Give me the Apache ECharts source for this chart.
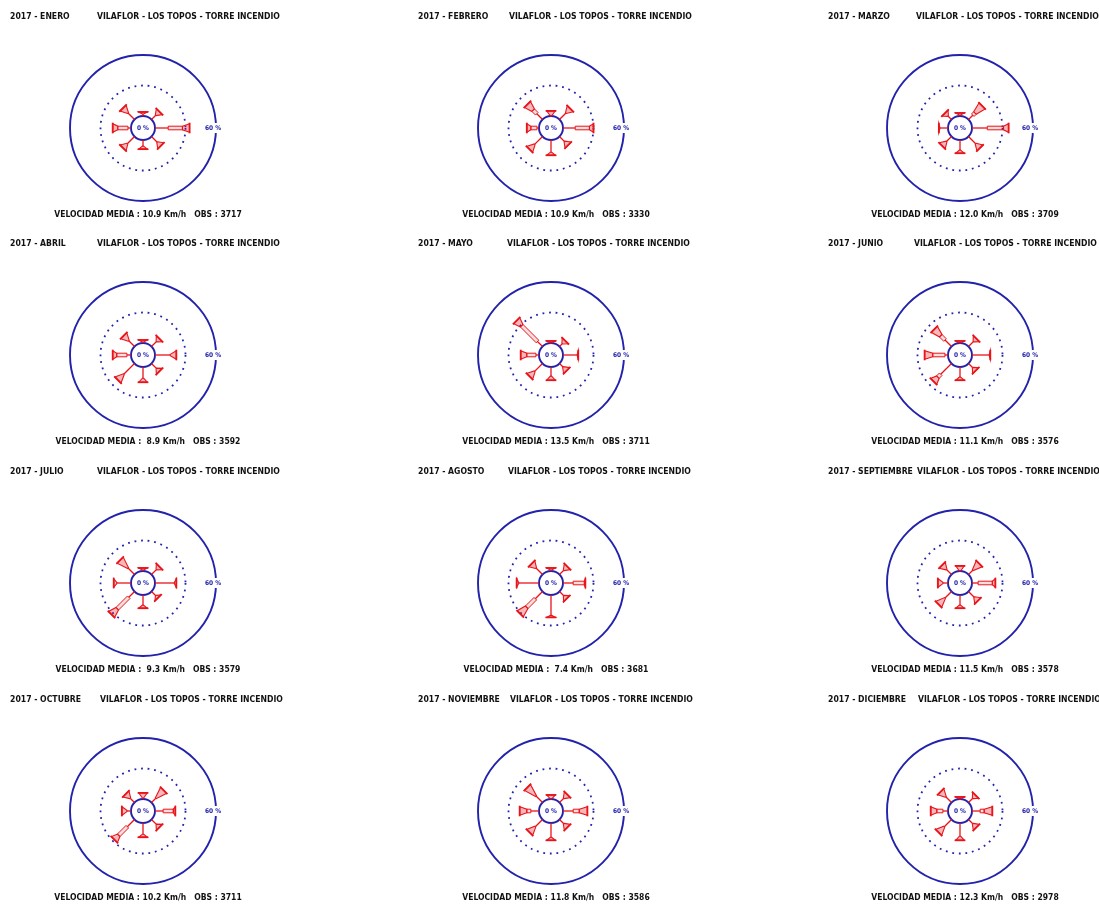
<!DOCTYPE html>
<html>
<head>
<meta charset="utf-8">
<script src="https://cdn.jsdelivr.net/npm/echarts@6/dist/echarts.min.js"></script>
<style>
html, body { margin: 0; padding: 0; background: #ffffff; }
#chart { width: 1099px; height: 904px; }
</style>
</head>
<body>
<div id="chart"></div>
<script>
// ---- Datos ----
const anio = 2017;
const estacion = 'VILAFLOR - LOS TOPOS - TORRE INCENDIO';
const meses = ['ENERO', 'FEBRERO', 'MARZO', 'ABRIL', 'MAYO', 'JUNIO',
  'JULIO', 'AGOSTO', 'SEPTIEMBRE', 'OCTUBRE', 'NOVIEMBRE', 'DICIEMBRE'];
const direcciones = ['N', 'NE', 'E', 'SE', 'S', 'SO', 'O', 'NO'];
const velocidadMedia = [10.9, 10.9, 12.0, 8.9, 13.5, 11.1, 9.3, 7.4, 11.5, 10.2, 11.8, 12.3];
const observaciones = [3717, 3330, 3709, 3592, 3711, 3576, 3579, 3681, 3578, 3711, 3586, 2978];
const anillos = [0, 30, 60];   // circulos de referencia (%)

// Frecuencia (%) por direccion (N, NE, E, SE, S, SO, O, NO) y clase de velocidad
const claseDebil = [
  [2, 6, 13, 8, 6, 10, 3, 9],
  [0, 9, 12, 7, 12, 11, 2, 8],
  [1, 6, 15, 10, 10, 7, 8, 5],
  [1, 7, 15, 7, 11, 15, 4, 8],
  [0, 4, 14, 5, 9, 11, 3, 7],
  [0, 7, 17, 6, 10, 15, 3, 9],
  [1, 7, 19, 6, 10, 8, 14, 9],
  [1, 6, 10, 6, 20, 10, 20, 9],
  [0, 6, 6, 8, 10, 9, 5, 7],
  [1, 6, 8, 7, 11, 10, 4, 6],
  [0, 6, 10, 6, 14, 10, 8, 9],
  [0, 6, 8, 6, 13, 10, 5, 8]
];
const claseModerada = [
  [0, 0, 14, 0, 0, 0, 10, 0],
  [0, 0, 14, 0, 0, 0, 6, 5],
  [0, 3, 16, 0, 0, 0, 0, 0],
  [0, 0, 0, 0, 0, 0, 10, 0],
  [0, 0, 0, 0, 0, 0, 9, 22],
  [0, 0, 0, 0, 0, 4, 12, 6],
  [0, 0, 0, 0, 0, 16, 0, 0],
  [0, 0, 11, 0, 0, 12, 0, 0],
  [0, 0, 14, 0, 0, 0, 0, 0],
  [0, 0, 10, 0, 0, 12, 0, 0],
  [0, 0, 6, 0, 0, 0, 4, 0],
  [0, 0, 4, 0, 0, 0, 6, 0]
];
const claseFuerte = [
  [2, 5, 7, 5, 3, 6, 5, 7],
  [5, 6, 4, 5, 3, 7, 4, 8],
  [2, 10, 5, 6, 3, 6, 1, 4],
  [2, 4, 6, 4, 4, 8, 4, 7],
  [2, 4, 1, 5, 4, 7, 6, 7],
  [2, 4, 1, 4, 3, 6, 8, 9],
  [2, 4, 2, 3, 3, 8, 3, 11],
  [2, 5, 1, 4, 2, 9, 2, 6],
  [5, 9, 3, 5, 3, 9, 5, 6],
  [5, 11, 2, 4, 3, 6, 5, 6],
  [4, 5, 8, 5, 3, 8, 7, 12],
  [2, 4, 8, 5, 4, 8, 6, 7]
];

// ---- Estilo y disposicion ----
const ROJO = '#e8141a';
const AZUL = '#2222ac';
const FUENTE = '"DejaVu Sans Condensed", "DejaVu Sans", sans-serif';
const columnasX = [143, 551, 960];
const filasY = [128, 355, 583, 811];
const tituloX = [10, 418, 828];
const desplazEstacion = [87, 91, 88, 87, 89, 86, 87, 90, 89, 90, 92, 90];

const chart = echarts.init(document.getElementById('chart'), null, { renderer: 'canvas' });

function renderAnillo(params, api) {
  const cs = params.coordSys;
  const v = api.value(0);
  const q = api.coord([v, 90]);
  const r = Math.hypot(q[0] - cs.cx, q[1] - cs.cy);
  const maximo = anillos[anillos.length - 1];
  const children = [];
  if (v > 0 && v < maximo) {
    children.push({ type: 'circle', shape: { cx: cs.cx, cy: cs.cy, r: r },
      style: { fill: null, stroke: AZUL, lineWidth: 1.8, lineDash: [1.8, 4.8] } });
  } else {
    children.push({ type: 'circle', shape: { cx: cs.cx, cy: cs.cy, r: r },
      style: { fill: null, stroke: AZUL, lineWidth: 1.9 } });
  }
  if (v === 0) {
    children.push({ type: 'text', x: cs.cx, y: cs.cy,
      style: { text: '0 %', fill: AZUL, font: 'bold 6.5px ' + FUENTE, align: 'center', verticalAlign: 'middle' } });
  }
  if (v === maximo) {
    children.push({ type: 'rect', shape: { x: q[0] - 11, y: q[1] - 5, width: 14, height: 10 },
      style: { fill: '#ffffff' } });
    children.push({ type: 'text', x: q[0] - 3, y: q[1],
      style: { text: v + ' %', fill: AZUL, font: 'bold 6.5px ' + FUENTE, align: 'center', verticalAlign: 'middle' } });
  }
  return { type: 'group', children: children };
}

function renderBrazo(params, api) {
  const cs = params.coordSys;
  const ang = api.value(1);
  const c1 = api.value(2), c2 = api.value(3), c3 = api.value(4);
  const total = c1 + c2 + c3;
  const a = api.coord([0, ang]);
  const dx = a[0] - cs.cx, dy = a[1] - cs.cy;
  const len = Math.hypot(dx, dy) || 1;
  const nx = -dy / len, ny = dx / len;
  const P = (r, off) => {
    const q = api.coord([r, ang]);
    return [q[0] + nx * off, q[1] + ny * off];
  };
  const children = [];
  if (c1 > 0) {
    const p0 = P(0, 0), p1 = P(c1, 0);
    children.push({ type: 'line', shape: { x1: p0[0], y1: p0[1], x2: p1[0], y2: p1[1] },
      style: { stroke: ROJO, lineWidth: 1.3 } });
  }
  if (c2 > 0) {
    children.push({ type: 'polygon',
      shape: { points: [P(c1, -1.8), P(c1 + c2, -1.8), P(c1 + c2, 1.8), P(c1, 1.8)] },
      style: { fill: 'rgba(232,20,26,0.15)', stroke: ROJO, lineWidth: 1 } });
  }
  if (c3 > 0) {
    const w0 = c2 > 0 ? 1.8 : 0.6;
    children.push({ type: 'polygon',
      shape: { points: [P(c1 + c2, -w0), P(total, -4.3), P(total, 4.3), P(c1 + c2, w0)] },
      style: { fill: 'rgba(232,20,26,0.3)', stroke: ROJO, lineWidth: 1.1 } });
  }
  const b0 = P(total, -5.3), b1 = P(total, 5.3);
  children.push({ type: 'line', shape: { x1: b0[0], y1: b0[1], x2: b1[0], y2: b1[1] },
    style: { stroke: ROJO, lineWidth: 1.8 } });
  return { type: 'group', children: children };
}

const polar = [], angleAxis = [], radiusAxis = [], series = [], graphic = [];
meses.forEach((mes, i) => {
  const col = i % 3, fila = Math.floor(i / 3);
  const cx = columnasX[col], cy = filasY[fila];
  polar.push({ center: [cx, cy], radius: [12, 73] });
  angleAxis.push({ polarIndex: i, type: 'value', min: 0, max: 360, startAngle: 90, clockwise: true, show: false });
  radiusAxis.push({ polarIndex: i, type: 'value', min: anillos[0], max: anillos[anillos.length - 1], show: false });

  series.push({
    type: 'custom', coordinateSystem: 'polar', polarIndex: i, z: 2, silent: true,
    encode: { radius: 0, angle: 1 },
    data: anillos.map(v => [v, 90]),
    renderItem: renderAnillo
  });
  series.push({
    type: 'custom', coordinateSystem: 'polar', polarIndex: i, z: 3, silent: true,
    encode: { radius: 0, angle: 1 },
    data: direcciones.map((d, k) => {
      const c1 = claseDebil[i][k], c2 = claseModerada[i][k], c3 = claseFuerte[i][k];
      return [c1 + c2 + c3, k * 45, c1, c2, c3];
    }),
    renderItem: renderBrazo
  });

  const ty = cy - 111;
  const fuenteTexto = 'bold 8.6px ' + FUENTE;
  graphic.push({ type: 'text', x: tituloX[col], y: ty, silent: true,
    style: { text: anio + ' - ' + mes, fill: '#111', font: fuenteTexto, verticalAlign: 'middle' } });
  graphic.push({ type: 'text', x: tituloX[col] + desplazEstacion[i], y: ty, silent: true,
    style: { text: estacion, fill: '#111', font: fuenteTexto, verticalAlign: 'middle' } });
  const vel = velocidadMedia[i].toFixed(1).padStart(4, ' ');
  graphic.push({ type: 'text', x: cx + 5, y: cy + 87, silent: true,
    style: { text: 'VELOCIDAD MEDIA : ' + vel + ' Km/h   OBS : ' + observaciones[i],
      fill: '#111', font: 'bold 8.5px ' + FUENTE, align: 'center', verticalAlign: 'middle' } });
});

chart.setOption({
  backgroundColor: '#ffffff',
  animation: false,
  polar: polar,
  angleAxis: angleAxis,
  radiusAxis: radiusAxis,
  series: series,
  graphic: graphic
});
</script>
</body>
</html>
